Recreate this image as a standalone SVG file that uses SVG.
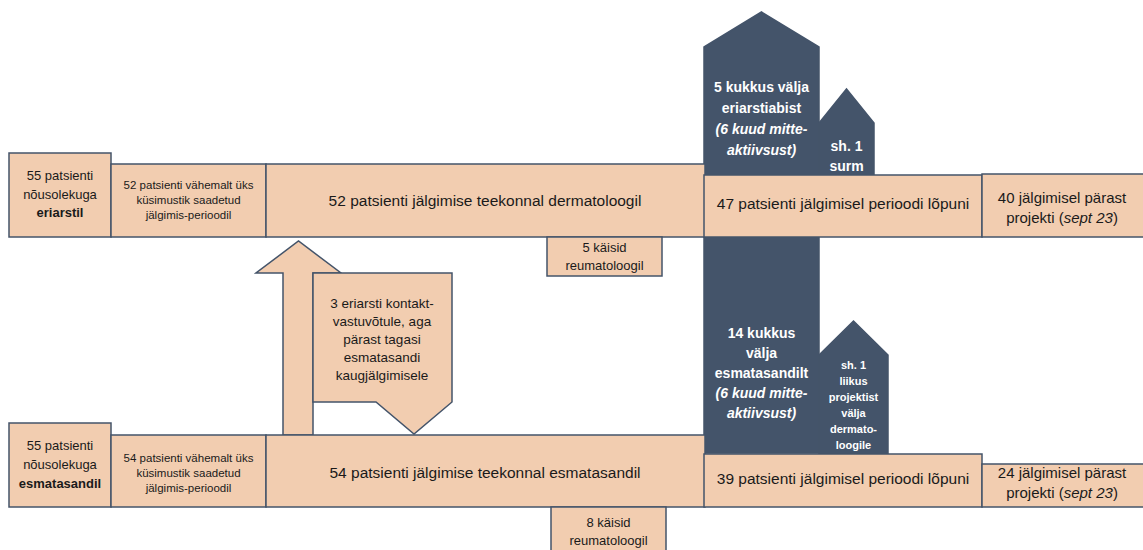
<svg xmlns="http://www.w3.org/2000/svg" width="1143" height="550" viewBox="0 0 1143 550">
<style>
.p{fill:#F2CDB0;stroke:#44546A;stroke-width:1.5}
.d{fill:#44546A;stroke:#44546A;stroke-width:1.5}
text{font-family:"Liberation Sans",Arial,sans-serif;text-anchor:middle;fill:#1a1a1a}
.w{fill:#ffffff;font-weight:bold}
.i{font-style:italic}
.b{font-weight:bold}
</style>
<rect width="1143" height="550" fill="#ffffff"/>
<g id="dark-top">
<path class="d" d="M704,453 V47 L761.5,12 L819,47 V453 Z"/>
<text class="w" font-size="14"><tspan x="761.5" y="92">5 kukkus välja</tspan><tspan x="761.5" y="113">eriarstiabist</tspan><tspan class="i" x="761.5" y="134">(6 kuud mitte-</tspan><tspan class="i" x="761.5" y="155">aktiivsust)</tspan></text>
</g>
<g id="dark-top-small">
<path class="d" d="M819,176 V123 L846.5,89 L874,123 V176 Z"/>
<text class="w" font-size="14"><tspan x="846.5" y="151">sh. 1</tspan><tspan x="846.5" y="171">surm</tspan></text>
</g>
<g id="dark-bottom">
<text class="w" font-size="14"><tspan x="761.5" y="338">14 kukkus</tspan><tspan x="761.5" y="358">välja</tspan><tspan x="761.5" y="378">esmatasandilt</tspan><tspan class="i" x="761.5" y="398">(6 kuud mitte-</tspan><tspan class="i" x="761.5" y="418">aktiivsust)</tspan></text>
</g>
<g id="dark-bottom-small">
<path class="d" d="M819,454 V355 L853.5,321 L888,355 V454 Z"/>
<text class="w" font-size="11"><tspan x="853.5" y="369">sh. 1</tspan><tspan x="853.5" y="385">liikus</tspan><tspan x="853.5" y="401">projektist</tspan><tspan x="853.5" y="417">välja</tspan><tspan x="853.5" y="433">dermato-</tspan><tspan x="853.5" y="449">loogile</tspan></text>
</g>
<g id="connectors">
<path class="p" d="M283,435 V273 H256 L298.5,241 L341,273 H313 V435 Z"/>
</g>
<g id="callout">
<path class="p" d="M313,273 H452 V402 L414,434 L376,402 H313 Z"/>
<text font-size="13.5"><tspan x="382" y="308">3 eriarsti kontakt-</tspan><tspan x="382" y="326">vastuvõtule, aga</tspan><tspan x="382" y="344">pärast tagasi</tspan><tspan x="382" y="362">esmatasandi</tspan><tspan x="382" y="380">kaugjälgimisele</tspan></text>
</g>
<g id="top-a">
<rect class="p" x="9" y="153" width="102" height="84"/>
<text font-size="13"><tspan x="60" y="180">55 patsienti</tspan><tspan x="60" y="198.5">nõusolekuga</tspan><tspan class="b" x="60" y="217">eriarstil</tspan></text>
</g>
<g id="top-b">
<rect class="p" x="111" y="164" width="155" height="73"/>
<text font-size="11.5"><tspan x="188.5" y="189">52 patsienti vähemalt üks</tspan><tspan x="188.5" y="204">küsimustik saadetud</tspan><tspan x="188.5" y="219">jälgimis-perioodil</tspan></text>
</g>
<g id="top-c">
<rect class="p" x="266" y="164" width="439" height="73"/>
<text font-size="15.5" x="485" y="205.5">52 patsienti jälgimise teekonnal dermatoloogil</text>
</g>
<g id="top-reuma">
<rect class="p" x="547" y="237" width="115" height="39"/>
<text font-size="13"><tspan x="604.5" y="251.5">5 käisid</tspan><tspan x="604.5" y="269.5">reumatoloogil</tspan></text>
</g>
<g id="top-d">
<rect class="p" x="704" y="175" width="278" height="62"/>
<text font-size="15.5" x="843" y="208.5">47 patsienti jälgimisel perioodi lõpuni</text>
</g>
<g id="top-e">
<rect class="p" x="982" y="174" width="165" height="63"/>
<text font-size="15"><tspan x="1062" y="202.5">40 jälgimisel pärast</tspan><tspan x="1062" y="222.5">projekti (<tspan class="i">sept 23</tspan>)</tspan></text>
</g>
<g id="bottom-a">
<rect class="p" x="9" y="423" width="102" height="84"/>
<text font-size="13"><tspan x="60" y="450">55 patsienti</tspan><tspan x="60" y="469">nõusolekuga</tspan><tspan class="b" x="60" y="488">esmatasandil</tspan></text>
</g>
<g id="bottom-b">
<rect class="p" x="111" y="435" width="155" height="72"/>
<text font-size="11.5"><tspan x="188.5" y="462">54 patsienti vähemalt üks</tspan><tspan x="188.5" y="477">küsimustik saadetud</tspan><tspan x="188.5" y="492">jälgimis-perioodil</tspan></text>
</g>
<g id="bottom-c">
<rect class="p" x="266" y="435" width="439" height="72"/>
<text font-size="15.5" x="485" y="477.5">54 patsienti jälgimise teekonnal esmatasandil</text>
</g>
<g id="bottom-reuma">
<rect class="p" x="551" y="507" width="115" height="50"/>
<text font-size="13"><tspan x="608.5" y="526.5">8 käisid</tspan><tspan x="608.5" y="544.5">reumatoloogil</tspan></text>
</g>
<g id="bottom-d">
<rect class="p" x="704" y="454" width="278" height="53"/>
<text font-size="15.5" x="843" y="483.5">39 patsienti jälgimisel perioodi lõpuni</text>
</g>
<g id="bottom-e">
<rect class="p" x="982" y="464" width="165" height="43"/>
<text font-size="15"><tspan x="1062" y="478">24 jälgimisel pärast</tspan><tspan x="1062" y="498">projekti (<tspan class="i">sept 23</tspan>)</tspan></text>
</g>
</svg>
